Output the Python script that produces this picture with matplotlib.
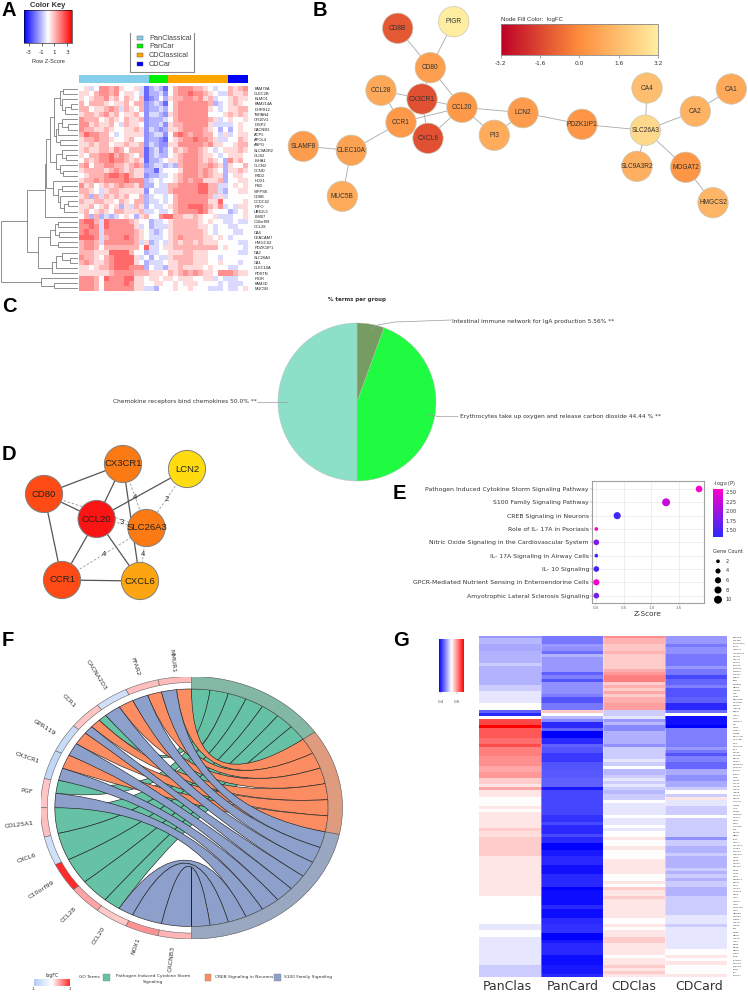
import numpy as np
import matplotlib
matplotlib.use('Agg')
import matplotlib.pyplot as plt
from matplotlib.cm import ScalarMappable
from matplotlib.colors import LinearSegmentedColormap, Normalize, TwoSlopeNorm
from matplotlib.patches import Circle, PathPatch, Rectangle, Wedge
from matplotlib.path import Path

plt.rcParams['axes.unicode_minus'] = False

W, H = 748, 998
ARIAL = 'Liberation Sans'

# ---- panel A: z-score heatmap, one digit per cell (5 = white)
a_genes = ['FAM78A', 'CLEC2B', 'ELMO1', 'FAM214A', 'DHRS12', 'TSPAN4', 'OR10V1', 'DISP2', 'CACNB3', 'ACP5',
           'APOL4', 'ASPG', 'SLC9A3R2', 'GLIS2', 'ISHA1', 'CLCN2', 'CCND', 'P4D2', 'HDX1', 'PSD',
           'SIPPSE', 'CD8B', 'CCDC42', 'PIFO', 'UBE2L5', 'LIM07', 'C10orf99', 'CCL28', 'CA4', 'CEACAM7',
           'HMGCS2', 'PDZK1IP1', 'CA2', 'SLC26A3', 'CA1', 'CLEC10A', 'PDSTN', 'PIGR', 'FAM3D', 'MUC5B']
a_rows = [
    '56458878655641' '3431' '578887765455' '7678',
    '66578878566541' '3342' '578898876544' '7667',
    '65677867576571' '2353' '677887867455' '6766',
    '75777656675772' '3431' '578888887345' '6765',
    '77566787476572' '3343' '578888886545' '6677',
    '67767867566752' '4432' '678888885556' '7676',
    '87775676576672' '3334' '578888887645' '6556',
    '88676675476652' '3342' '677888886444' '4565',
    '87766765566762' '4323' '667888876535' '3565',
    '79887754566662' '3442' '589878877546' '4566',
    '67787765567552' '3321' '567889887644' '5576',
    '66767756676672' '4322' '668888878665' '5677',
    '67667768757771' '3423' '576788765456' '6676',
    '65778897876571' '3433' '567888766545' '6665',
    '57678898876761' '3345' '667888767653' '8675',
    '78577887767872' '3443' '437888778763' '6557',
    '67777678767663' '3145' '556888787653' '6676',
    '56777899897662' '3344' '567888787663' '5665',
    '67787888898883' '4545' '567878866673' '5566',
    '86756767877683' '3544' '778888997744' '5656',
    '77654677666662' '5444' '788888997743' '5566',
    '67374767675573' '4554' '578888887464' '5555',
    '76677665765773' '4454' '578888886695' '5556',
    '66756756364763' '5445' '678899987684' '5466',
    '67567657766674' '4544' '578888986555' '3456',
    '57373434565367' '5589' '977667655644' '4556',
    '89974988887655' '3445' '677777656554' '4544',
    '88984988888645' '3444' '677777665455' '4455',
    '89884888888765' '4345' '677777765455' '5445',
    '99984788898765' '4445' '678777766565' '4555',
    '78874888888746' '3454' '676776766655' '5544',
    '78875777777759' '4456' '677777777756' '5554',
    '77766699997553' '4455' '666776665555' '5544',
    '87765789999645' '3544' '677776665545' '5555',
    '78766789999653' '4445' '667776665565' '5545',
    '66567789998883' '5443' '667666656555' '4455',
    '66666678888777' '6665' '767878766588' '8766',
    '88875988899665' '6656' '656665566454' '4455',
    '88875888898665' '5665' '565666555545' '4445',
    '88875888888664' '4355' '565565554445' '4456',
]
a_groups = ['PanClassical', 'PanCar', 'CDClassical', 'CDCar']
a_group_cols = [14, 4, 12, 4]
a_group_colors = ['#87ceeb', '#00ee00', '#ffa500', '#0000ff']

# dendrogram as nested (height, left, right), leaves are row numbers
g1 = (60, (63, 0, 1), (62, 2, (65, (71, 3, 4), 5)))
g2 = (56, (58, (62, 6, (68, 7, 8)), 9), (60, 10, 11))
g3 = (56, (62, 12, (66, 13, 14)), (60, 15, (63, 16, 17)))
g4 = (58, (62, 19, 20), (60, 21, (64, (68, 22, 23), 24)))
top_tree = (45, (46, (50, (54, g1, g2), g3), (53, 18, g4)), 25)
b1 = (50, (55, (58, 26, 27), (59, 28, 29)), (58, 30, 31))
b2 = (52, (56, (62, 32, (70, 33, 34)), 35), 36)
a_tree = (1, (27, top_tree, (38, b1, b2)), (41, 37, (54, 38, 39)))

# ---- panel B: network
b_names = ['CD8B', 'PIGR', 'CD80', 'CCL28', 'CX3CR1', 'CCL20', 'CCR1', 'CXCL6', 'PI3', 'LCN2', 'PDZK1IP1',
           'SLC26A3', 'CA4', 'CA2', 'CA1', 'SLC9A3R2', 'MOGAT2', 'HMGCS2', 'SLAMF8', 'CLEC10A', 'MUC5B']
b_logfc = [-1.2, 3.2, 0.6, 0.9, -1.4, 0.4, 0.4, -1.4, 1.0, 0.5, 0.3, 2.5, 1.6, 1.2, 0.9, 1.1, 0.3, 1.3, 0.5, 0.7, 1.0]
b_x = [397.7, 453.7, 430.3, 381, 422, 462, 401, 428, 494.3, 523, 582, 645.3, 647, 695.3, 731.3, 637, 685.7, 713, 303.3, 351.3, 342.3]
b_y = [28.3, 21.7, 67.7, 90.3, 99, 107.3, 122.3, 138.3, 135.3, 112.7, 124.3, 130.3, 88, 111.3, 89, 166.3, 167.3, 202.7, 146.3, 150.3, 196.3]
b_edges = [('CD8B', 'CD80'), ('PIGR', 'CD80'), ('CD80', 'CX3CR1'), ('CD80', 'CCL20'), ('CCL28', 'CX3CR1'),
           ('CCL28', 'CCR1'), ('CX3CR1', 'CCL20'), ('CX3CR1', 'CXCL6'), ('CCR1', 'CCL20'), ('CXCL6', 'CCL20'),
           ('CCL20', 'PI3'), ('CCL20', 'LCN2'), ('PI3', 'LCN2'), ('LCN2', 'PDZK1IP1'), ('PDZK1IP1', 'SLC26A3'),
           ('SLC26A3', 'CA4'), ('SLC26A3', 'CA2'), ('CA2', 'CA1'), ('SLC26A3', 'SLC9A3R2'), ('SLC26A3', 'MOGAT2'),
           ('MOGAT2', 'HMGCS2'), ('CCR1', 'CLEC10A'), ('CLEC10A', 'SLAMF8'), ('CLEC10A', 'MUC5B')]

# ---- panel C: pie
c_values = [5.56, 44.44, 50.0]
c_colors = ['#769c62', '#1ffb40', '#8de0c8']

# ---- panel D: network
d_names = ['CD80', 'CX3CR1', 'LCN2', 'CCL20', 'SLC26A3', 'CCR1', 'CXCL6']
d_colors = ['#fe4a14', '#fb7a14', '#ffdc10', '#fb1414', '#fb7a14', '#fe4a14', '#fca510']
d_x = [44, 123, 187, 96.6, 146.5, 62, 140]
d_y = [494, 464, 469, 519, 528, 580, 581]
d_solid = [('CD80', 'CX3CR1'), ('CD80', 'CCL20'), ('CD80', 'CCR1'), ('CX3CR1', 'CCL20'), ('CX3CR1', 'CXCL6'),
           ('LCN2', 'CCL20'), ('CCL20', 'CCR1'), ('CCL20', 'CXCL6'), ('CCR1', 'CXCL6')]
d_dashed = [('CD80', 'SLC26A3'), ('CX3CR1', 'SLC26A3'), ('LCN2', 'SLC26A3'), ('CCL20', 'SLC26A3'),
            ('CCR1', 'SLC26A3'), ('SLC26A3', 'CXCL6')]
d_edge_labels = ['4', '2', '3', '4', '4']
d_edge_x = [135, 166.5, 121.5, 104, 142.6]
d_edge_y = [497, 499, 523, 554, 554]

# ---- panel E: bubble plot
e_terms = ['Pathogen Induced Cytokine Storm Signaling Pathway', 'S100 Family Signaling Pathway',
           'CREB Signaling in Neurons', 'Role of IL- 17A in Psoriasis',
           'Nitric Oxide Signaling in the Cardiovascular System', 'IL- 17A Signaling in Airway Cells',
           'IL- 10 Signaling', 'GPCR-Mediated Nutrient Sensing in Enteroendorine Cells',
           'Amyotrophic Lateral Sclerosis Signaling']
e_z = [1.87, 1.27, 0.38, 0, 0, 0, 0, 0, 0]
e_logp = [2.55, 2.25, 1.45, 2.55, 1.85, 1.4, 1.45, 2.5, 1.8]
e_count = [7, 10, 8, 2, 5, 2, 5, 6, 5]
e_legend_counts = [2, 4, 6, 8, 10]

# ---- panel F: chord diagram
f_genes = ['MMUR1', 'FFAR2', 'CACNA2D3', 'CCR1', 'GPR119', 'CX3CR1', 'PGF', 'COL25A1', 'CXCL6', 'C10orf99',
           'CCL28', 'CCL20', 'NOX1', 'CACNB3']
f_logfc = [0.65, 0.6, -0.6, 0.55, -0.7, -0.8, 0.55, 0.6, -0.6, 2.0, 0.85, 0.5, 1.0, 0.7]
f_terms = ['Pathogen Induced Cytokine Storm\nSignaling', 'CREB Signaling in Neurons', 'S100 Family Signaling']
f_term_colors = ['#66c2a5', '#fc8d62', '#8da0cb']
f_ring_colors = ['#82b8a4', '#df9b7d', '#9aa7c1']
# links in order down the left half: term index and where each ends (degrees from the top)
f_link_term = [1, 2, 1, 2, 1, 2, 0, 1, 2, 1, 2, 1, 2, 0, 2, 0, 0, 0, 0, 0, 2, 2, 2]
f_link_end = [6.3, 12.7, 18.7, 25.4, 31.9, 38.9, 42.5, 47, 51, 57.4, 63.7, 70.6, 76.6, 83, 90,
              102.5, 115.9, 128.6, 140.8, 148, 154.5, 167.3, 180]
f_label_r = [1.13, 1.14, 1.19, 1.15, 1.15, 1.153, 1.10, 1.15, 1.155, 1.17, 1.15, 1.15, 1.12, 1.16]

# ---- panel G: heatmap, each column as values and the row where that value stops
g_columns = ['PanClas', 'PanCard', 'CDClas', 'CDCard']
g_pan_clas = [.47, .49, .48, .486, .502, .486, .502, .518, .534, .434, .40, .534, .65, .694, .64, .625, .646, .614, .605,
              .59, .598, .566, .55, .59, .55, .534, .55, .534, .55, .566, .555, .566, .55, .534, .518, .534, .518, .502]
g_pan_clas_end = [1, 3, 5, 9, 10, 16, 18, 22, 24, 25, 26, 27, 29, 30, 33, 35, 36, 39, 42,
                  44, 46, 48, 49, 50, 52, 55, 56, 57, 62, 63, 65, 71, 84, 93, 95, 97, 106, 110]
g_pan_card = [.449, .47, .464, .443, .486, .47, .434, .454, .427, .464, .454, .427, .449, .57, .534, .49, .46, .40,
              .434, .374, .40, .434, .427, .41, .427, .43, .434, .39, .419, .406, .42, .40, .42, .40, .374, .39, .40,
              .384, .40, .374, .382, .40, .382, .40, .404, .374, .39, .40, .382, .39, .40]
g_pan_card_end = [3, 4, 5, 6, 7, 12, 13, 14, 15, 19, 20, 22, 24, 25, 26, 27, 28, 30,
                  31, 33, 35, 36, 38, 41, 43, 46, 49, 50, 58, 60, 61, 64, 65, 67, 69, 71, 74,
                  77, 81, 82, 87, 88, 91, 93, 96, 98, 99, 103, 106, 109, 110]
g_cd_clas = [.605, .582, .57, .582, .566, .585, .598, .614, .566, .585, .566, .59, .566, .585, .595, .502, .518, .47,
             .49, .46, .485, .464, .502, .518, .502, .534, .49, .502, .518, .502, .518, .502, .49, .502, .534, .518,
             .534, .518, .534, .518, .534, .55, .534, .55, .534, .55, .534, .55, .534, .566, .55, .566, .55, .534, .55,
             .534, .55, .566, .55, .534, .55, .566, .55, .566, .55]
g_cd_clas_end = [1, 3, 5, 6, 11, 12, 13, 15, 16, 17, 18, 19, 20, 22, 24, 26, 27, 28,
                 29, 31, 35, 36, 40, 41, 42, 43, 45, 46, 47, 48, 49, 50, 51, 53, 54, 58,
                 59, 61, 62, 63, 65, 66, 68, 69, 72, 77, 79, 80, 81, 82, 84, 85, 91, 93, 94,
                 95, 97, 99, 103, 104, 106, 107, 108, 109, 110]
g_cd_card = [.47, .449, .464, .449, .47, .449, .42, .438, .454, .427, .434, .40, .443, .534, .384, .374, .454, .452, .47,
             .449, .427, .454, .438, .481, .464, .481, .502, .534, .502, .55, .518, .502, .534, .502, .464, .502, .486,
             .502, .486, .502, .486, .502, .486, .502, .486, .502, .518, .502, .518, .534, .55, .534, .55, .534, .55]
g_cd_card_end = [3, 4, 6, 10, 11, 13, 14, 16, 17, 20, 22, 24, 25, 26, 29, 30, 35, 36, 37,
                 38, 39, 41, 43, 45, 47, 49, 50, 51, 52, 53, 55, 58, 59, 65, 66, 68, 70,
                 71, 75, 76, 77, 78, 79, 81, 84, 90, 93, 94, 101, 103, 104, 105, 106, 109, 110]
# row labels are far too small to read in the picture, these are best guesses
g_genes = ['BRPOEB', 'TBXT82', 'CACNA2D3', 'SCIL2', 'C1NCTL', 'ADAMTSL2', 'DDAH2', 'PRKCQ', 'MYH14', 'KCNJ15',
           'CCHCR1', 'TRDSL2', 'SOX10A', 'ESRG2', 'RIN1', 'CD22R3', 'GRID1', 'SMPD3', 'ADK', 'MGEA',
           'BRPOEB3', 'DGCR2B', 'SNTG1', 'SPPL2B', 'BEST2', 'LRRC7', 'RAI1', 'HMGN17', 'RGI', 'UCK2',
           'MGST1', 'CPNE6', 'CEACAM7', 'GUCA2B', 'SIAE', 'C10orf99', 'EJA1', 'SOCS6', 'MUC2B', 'KRT23',
           'MGST2', 'PDZK1IP1', 'MOGAT2', 'BAIAP3', 'BAZ2A', 'GMK', 'SAP30', 'CCL20', 'CCL28', 'RABL6',
           'ASB18', 'HDAC9', 'CXCL6', 'GUCA2A', 'ABCB1', 'TFAP', 'SATB2', 'ADGRG2', 'HOXC4', 'DDR2',
           'SOX6', 'CACNB3', 'BLK', 'SNX13', 'DRD3', 'BATF', 'ANXA7', 'COL25A1', 'HOXB3', 'C2orf70',
           'CLEC10A', 'ADK2', 'CD3D', 'HAUS8', 'ZNF324', 'DDB2', 'GLIS2', 'SNX2', 'CREB3L1', 'BRSK1',
           'SDHA', 'GNPTG', 'HDGFL3', 'MPP6', 'GLS2', 'UNC13', 'AKT3', 'CCDC187', 'TBX3', 'GRIN2D',
           'MMUR1', 'FERD3', 'PRKCG', 'ANKK1', 'PGF', 'DISP2', 'GRIK3', 'ABCG2', 'ACP5', 'CD80',
           'CD8B', 'DRD4', 'EPS15', 'PIGR', 'SLAMF8', 'CX3CR1', 'CLEC2B', 'LCN2', 'PI3', 'FAM78A']
g_key_ticks = [0.4, 0.6]


def px_axes(x0, y0, x1, y1):
    a = fig.add_axes([x0 / W, 1 - y1 / H, (x1 - x0) / W, (y1 - y0) / H])
    return a


def draw_tree(a, node):
    # returns the position of a node, leaves sit on the right of the tree
    if not isinstance(node, tuple):
        return 78, node + 0.5
    h, left, right = node
    x1, y1 = draw_tree(a, left)
    x2, y2 = draw_tree(a, right)
    a.plot([x1, h, h, x2], [y1, y1, y2, y2], color='#7d7d7d', lw=0.6, solid_joinstyle='miter')
    return h, (y1 + y2) / 2


def network(a, names, xs, ys, edges, **kw):
    pos = dict(zip(names, zip(xs, ys)))
    for s, t in edges:
        a.plot([pos[s][0], pos[t][0]], [pos[s][1], pos[t][1]], zorder=1, **kw)


fig = plt.figure(figsize=(W / 100, H / 100), dpi=100)
ax = fig.add_axes([0, 0, 1, 1])
ax.set_xlim(0, W)
ax.set_ylim(H, 0)
ax.axis('off')

for letter, lx, ly in [('A', 2, 16), ('B', 313, 16), ('C', 2, 312), ('D', 2, 460), ('E', 393, 499), ('F', 2, 646), ('G', 393, 646)]:
    ax.text(lx, ly, letter, fontsize=14.5, fontweight='bold', family=ARIAL, ha='left', va='baseline')

# panel A
z = np.array([[(int(c) - 5) * 0.55 for c in row] for row in a_rows])
a_ax = px_axes(79, 86, 248, 291)
a_ax.imshow(z, cmap='bwr', vmin=-3.8, vmax=3.8, aspect='auto', interpolation='nearest')
a_ax.set_xticks([])
a_ax.yaxis.tick_right()
a_ax.set_yticks(range(len(a_genes)))
a_ax.set_yticklabels(a_genes, fontsize=2.9, family=ARIAL, color='#222222')
a_ax.tick_params(axis='y', length=0, pad=4.5)
for s in a_ax.spines.values():
    s.set_visible(False)

bar_ax = px_axes(79, 75, 248, 83)
bar_ax.barh([0], a_group_cols, left=np.cumsum([0] + a_group_cols[:-1]), height=1, color=a_group_colors)
bar_ax.set_xlim(0, sum(a_group_cols))
bar_ax.set_ylim(-0.5, 0.5)
bar_ax.axis('off')

dend_ax = px_axes(0, 86, 78, 291)
dend_ax.set_xlim(0, 78)
dend_ax.set_ylim(len(a_genes), 0)
dend_ax.axis('off')
draw_tree(dend_ax, a_tree)

key_ax = px_axes(24, 10.5, 72, 42.7)
cb = fig.colorbar(ScalarMappable(Normalize(-3.8, 3.8), 'bwr'), cax=key_ax, orientation='horizontal')
cb.set_ticks([-3, -1, 1, 3])
cb.ax.tick_params(labelsize=4.2, length=2, width=0.4, pad=3, labelcolor='#333333')
cb.outline.set_linewidth(0.4)
ax.text(48, 5, 'Color Key', fontsize=5.4, fontweight='bold', family=ARIAL, ha='center', va='center', color='#333333')
ax.text(48, 61.7, 'Row Z-Score', fontsize=4.1, family=ARIAL, ha='center', va='center', color='#333333')

ax.plot([130.5, 130.5, 194.5, 194.5], [33, 72, 72, 33], color='#888888', lw=0.8)
for name, col, ly in zip(a_groups, a_group_colors, [38, 46, 55, 64]):
    ax.add_patch(Rectangle((137.5, ly - 2.3), 5.3, 4.6, facecolor=col, edgecolor='#555555', lw=0.3))
    ax.text(149, ly, name, fontsize=5.3, family=ARIAL, va='center', color='#444444')

# panel B
b_cmap = LinearSegmentedColormap.from_list('logfc', ['#bd0026', '#fd8d3c', '#ffeda0'])
b_norm = Normalize(-3.2, 3.2)
network(ax, b_names, b_x, b_y, b_edges, color='#a8a8a8', lw=0.6)
for name, fc, nx, ny in zip(b_names, b_logfc, b_x, b_y):
    ax.add_patch(Circle((nx, ny), 15.2, facecolor=b_cmap(b_norm(fc)), edgecolor='#c8c8b8', lw=0.5, zorder=2))
    ax.text(nx, ny, name, fontsize=4.7, family=ARIAL, ha='center', va='center', color='#333333', zorder=3)

b_key = px_axes(500.7, 23.5, 658, 55)
cb = fig.colorbar(ScalarMappable(b_norm, b_cmap), cax=b_key, orientation='horizontal')
cb.set_ticks([-3.2, -1.6, 0.0, 1.6, 3.2])
cb.ax.tick_params(labelsize=4.2, length=2, width=0.4, pad=2, labelcolor='#333333', color='#666666')
cb.outline.set_edgecolor('#888888')
cb.outline.set_linewidth(0.6)
ax.text(500.7, 19, 'Node Fill Color:  logFC', fontsize=4.4, family=ARIAL, va='center', color='#333333')

# panel C
c_ax = px_axes(278, 323, 436, 481)
c_ax.pie(c_values, colors=c_colors, startangle=90, counterclock=False, radius=1,
         wedgeprops={'edgecolor': '#b8b8b8', 'linewidth': 0.3})
c_ax.set_xlim(-1, 1)
c_ax.set_ylim(-1, 1)
ax.text(357, 299, '% terms per group', fontsize=4, fontweight='bold', ha='center', va='center', color='#333333')
ax.plot([371, 372, 378, 395, 451], [332, 328, 325, 322, 320], color='#9a9a9a', lw=0.5, zorder=5)
ax.plot([257.5, 287], [402, 402], color='#9a9a9a', lw=0.5, zorder=5)
ax.plot([427, 438, 458], [414, 416.5, 416.5], color='#9a9a9a', lw=0.5, zorder=5)
c_ax.set_zorder(0)
ax.set_zorder(1)
ax.patch.set_alpha(0)
ax.text(452, 321, 'Intestinal immune network for IgA production 5.56% **', fontsize=4.2, va='center', color='#333333')
ax.text(257, 402, 'Chemokine receptors bind chemokines 50.0% **', fontsize=4.2, va='center', ha='right', color='#333333')
ax.text(460, 416.5, 'Erythrocytes take up oxygen and release carbon dioxide 44.44 % **', fontsize=4.2, va='center', color='#333333')

# panel D
network(ax, d_names, d_x, d_y, d_solid, color='#555555', lw=0.9)
network(ax, d_names, d_x, d_y, d_dashed, color='#999999', lw=0.6, ls=(0, (3, 2)))
for name, col, nx, ny in zip(d_names, d_colors, d_x, d_y):
    ax.add_patch(Circle((nx, ny), 18.6, facecolor=col, edgecolor='#7f7f7f', lw=0.7, zorder=2))
    ax.text(nx, ny, name, fontsize=6.8, family=ARIAL, ha='center', va='center', color='#222222', zorder=3)
for lab, lx, ly in zip(d_edge_labels, d_edge_x, d_edge_y):
    ax.text(lx, ly, lab, fontsize=5.5, family=ARIAL, ha='center', va='center', color='#333333', zorder=3)

# panel E
e_cmap = LinearSegmentedColormap.from_list('logp', ['#2a2aff', '#ff00cc'])
e_norm = Normalize(1.32, 2.58)


def bubble(counts):
    return 7 + (np.array(counts) - 2) * 3.2


e_ax = px_axes(591.7, 480.7, 704, 603)
e_ax.scatter(e_z, range(len(e_terms)), s=bubble(e_count), c=e_logp, cmap=e_cmap, norm=e_norm, zorder=3, linewidths=0)
e_ax.set_xlim(-0.084, 1.96)
e_ax.set_ylim(8.55, -0.62)
e_ax.set_yticks(range(len(e_terms)))
e_ax.set_yticklabels(e_terms, fontsize=4.4, color='#333333')
e_ax.set_xticks([0, 0.5, 1, 1.5])
e_ax.set_xticklabels(['0.0', '0.5', '1.0', '1.5'], fontsize=2.9, color='#666666')
e_ax.tick_params(length=1.2, width=0.3, pad=0.8, color='#777777')
e_ax.grid(color='#ececec', lw=0.6, zorder=0)
e_ax.set_axisbelow(True)
e_ax.set_xlabel('Z-Score', fontsize=5.2, labelpad=1, color='#333333')
for s in e_ax.spines.values():
    s.set_color('#a0a0a0')
    s.set_linewidth(0.8)
e_key = px_axes(713, 489, 723, 537)
cb = fig.colorbar(ScalarMappable(e_norm, e_cmap), cax=e_key)
cb.set_ticks([1.5, 1.75, 2.0, 2.25, 2.5])
cb.set_ticklabels(['1.50', '1.75', '2.00', '2.25', '2.50'])
cb.ax.tick_params(labelsize=3.6, length=0, pad=2, labelcolor='#333333')
cb.outline.set_visible(False)
ax.text(713, 483, r'-log$_{10}$(P)', fontsize=3.6, va='center', color='#333333')
ax.text(713, 551.7, 'Gene Count', fontsize=3.6, va='center', color='#333333')
ax.scatter([718] * 5, [561.3, 571, 580.3, 590, 599.7], s=bubble(e_legend_counts), color='black', linewidths=0)
for cnt, ly in zip(e_legend_counts, [561.3, 571, 580.3, 590, 599.7]):
    ax.text(725.7, ly, str(cnt), fontsize=3.6, va='center', color='#333333')

# panel F
f_cmap = LinearSegmentedColormap.from_list('f', ['#b3ccf5', '#ffffff', '#ff2a2a'])
f_norm = TwoSlopeNorm(vmin=-1, vcenter=0, vmax=2)
f_ax = px_axes(40.5, 676.5, 342.5, 939)
f_ax.set_xlim(-1, 1)
f_ax.set_ylim(-1, 1)
f_ax.axis('off')
INNER = 0.905


def arc(deg0, deg1, side):
    # side +1 = right half, -1 = left half, degrees measured from the top
    t = np.radians(np.linspace(deg0, deg1, 12))
    return np.column_stack([side * INNER * np.sin(t), INNER * np.cos(t)])


step = 180 / len(f_link_term)
term_counts = [f_link_term.count(i) for i in range(3)]
term_start = np.cumsum([0] + term_counts[:-1]) * step
used = [0, 0, 0]
link_start = [0] + f_link_end[:-1]
for term, a0, a1 in zip(f_link_term, link_start, f_link_end):
    b0 = term_start[term] + used[term] * step
    b1 = b0 + step
    used[term] += 1
    left = arc(a0, a1, -1)
    right = arc(b1, b0, 1)
    verts = list(left) + [(0, 0)] + list(right) + [(0, 0), left[0]]
    codes = ([Path.MOVETO] + [Path.LINETO] * (len(left) - 1) + [Path.CURVE3] + [Path.CURVE3]
             + [Path.LINETO] * (len(right) - 1) + [Path.CURVE3, Path.CURVE3])
    # green goes underneath, then orange, blue on top
    f_ax.add_patch(PathPatch(Path(verts, codes), facecolor=f_term_colors[term], edgecolor='#222222', lw=0.45,
                             zorder=2 + term))

for i in range(3):
    t0 = term_start[i]
    t1 = t0 + term_counts[i] * step
    f_ax.add_patch(Wedge((0, 0), 1, 90 - t1, 90 - t0, width=1 - INNER, facecolor=f_ring_colors[i],
                         edgecolor='#555555', lw=0.4, zorder=6))
gene_step = 180 / len(f_genes)
for i, (gene, fc, r) in enumerate(zip(f_genes, f_logfc, f_label_r)):
    t0 = i * gene_step
    f_ax.add_patch(Wedge((0, 0), 1, 90 + t0, 90 + t0 + gene_step, width=0.045, facecolor=f_cmap(f_norm(fc)),
                         edgecolor='#666666', lw=0.4, zorder=6))
    mid = np.radians(t0 + gene_step / 2)
    f_ax.text(-r * np.sin(mid), r * np.cos(mid), gene, fontsize=4.6, rotation=np.degrees(mid) - 90,
              rotation_mode='anchor', ha='center', va='center', color='#333333', clip_on=False)

f_key = px_axes(34, 979, 70, 986)
cb = fig.colorbar(ScalarMappable(f_norm, f_cmap), cax=f_key, orientation='horizontal', spacing='proportional')
cb.set_ticks([-1, 2])
cb.ax.xaxis.set_ticklabels(['-1', '2'])
cb.ax.tick_params(labelsize=3, length=0, pad=1, labelcolor='#333333')
cb.outline.set_visible(False)
ax.text(52, 975, 'logFC', fontsize=3.4, ha='center', va='center', color='#333333')
ax.text(79, 977, 'GO Terms', fontsize=3.2, va='center', color='#333333')
for col, sx in zip(f_term_colors, [103.5, 204.7, 274]):
    ax.add_patch(Rectangle((sx, 973.5), 6.7, 7, facecolor=col, edgecolor='#888888', lw=0.3))
ax.text(153, 974.5, f_terms[0], fontsize=3.2, ha='center', va='top', color='#333333', linespacing=1.35)
ax.text(215, 977, f_terms[1], fontsize=3.2, va='center', color='#333333')
ax.text(284, 977, f_terms[2], fontsize=3.2, va='center', color='#333333')

# panel G
g_ends = [g_pan_clas_end, g_pan_card_end, g_cd_clas_end, g_cd_card_end]
g_vals = [g_pan_clas, g_pan_card, g_cd_clas, g_cd_card]
g_matrix = np.column_stack([np.repeat(v, np.diff([0] + e)) for v, e in zip(g_vals, g_ends)])
g_ax = px_axes(479, 636, 727, 977)
g_ax.imshow(g_matrix, cmap='bwr', vmin=0.374, vmax=0.694, aspect='auto', interpolation='nearest')
g_ax.set_xticks([])
g_ax.yaxis.tick_right()
g_ax.set_yticks(range(len(g_genes)))
g_ax.set_yticklabels(g_genes, fontsize=1.6, color='#333333')
g_ax.tick_params(axis='y', length=0, pad=4)
g_ax.vlines([0.5, 1.5, 2.5], -0.5, 109.5, color='white', lw=0.5, alpha=0.5)
for s in g_ax.spines.values():
    s.set_visible(False)
for name, lx in zip(g_columns, [507.7, 572.7, 634, 699]):
    ax.text(lx, 987, name, fontsize=9, ha='center', va='center', color='#333333')
g_key = px_axes(439, 639, 464, 692)
cb = fig.colorbar(ScalarMappable(Normalize(0.374, 0.694), 'bwr'), cax=g_key, orientation='horizontal')
cb.set_ticks(g_key_ticks)
cb.ax.tick_params(labelsize=3, length=1.5, width=0.3, pad=4.5, labelcolor='#555555', color='#777777')
cb.outline.set_visible(False)

fig.savefig('out.png', dpi=100)
